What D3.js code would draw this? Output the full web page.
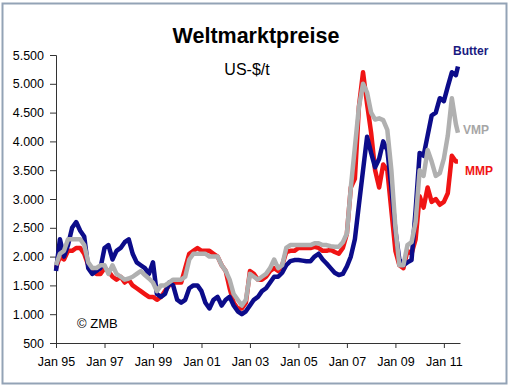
<!DOCTYPE html>
<html>
<head>
<meta charset="utf-8">
<script src="https://cdn.jsdelivr.net/npm/d3@7"></script>
<style>
  body { margin: 0; background: #fff; }
  svg text { font-family: "Liberation Sans", Arial, sans-serif; }
</style>
</head>
<body>
<svg id="chart" width="510" height="387"></svg>
<script>
// bi-monthly dates, Jan 95 .. Jul 11, plus Aug 11
var dates = [];
for (var yr = 1995; yr <= 2011; yr++) {
  for (var mo = 0; mo < 12; mo += 2) {
    if (yr === 2011 && mo > 6) break;
    dates.push(new Date(yr, mo, 1));
  }
}
dates.push(new Date(2011, 7, 1));

var butter = [
  1750, 2300, 2000, 2200, 2500, 2600,
  2450, 2350, 1800, 1700, 1750, 1800,
  2150, 2200, 1950, 2100, 2150, 2250,
  2300, 2050, 1900, 1850, 1800, 1700,
  1900, 1350, 1300, 1350, 1550, 1500,
  1250, 1200, 1250, 1450, 1500, 1500,
  1400, 1200, 1100, 1250, 1300, 1150,
  1250, 1300, 1150, 1050, 1000, 1050,
  1150, 1250, 1300, 1400, 1450, 1550,
  1650, 1650, 1720, 1850, 1920, 1940,
  1940, 1930, 1920, 1920, 2000, 2050,
  1950, 1880, 1800, 1720, 1680, 1700,
  1830, 2000, 2300, 2900, 3500, 4080,
  3800, 3550, 3700, 4000, 3850, 3200,
  2450, 1950, 1850, 1900, 1940, 2800,
  3800, 3750, 4100, 4450, 4500, 4750,
  4700, 4950, 5200, 5150, 5300
];

var mmp = [
  1800, 2000, 1950, 2100, 2100, 2150,
  2150, 2050, 1850, 1750, 1700, 1700,
  1800, 1750, 1650, 1600, 1650, 1550,
  1600, 1500, 1450, 1400, 1350, 1300,
  1300, 1250, 1300, 1400, 1500, 1550,
  1550, 1550, 1800, 2050, 2100, 2150,
  2100, 2100, 2100, 2050, 2000, 1850,
  1750, 1450, 1200, 1100, 1100, 1200,
  1750, 1700, 1600, 1600, 1650, 1750,
  1800, 1750, 1850, 2080, 2100, 2100,
  2150, 2150, 2150, 2150, 2170, 2150,
  2100, 2100, 2120, 2080, 2050, 2150,
  2400, 3200, 3350, 4600, 5200, 4650,
  4150, 3500, 3200, 3600, 3500, 2800,
  2100, 1850, 1800, 2100, 2050, 2300,
  3050, 2850, 3200, 2950, 3000, 2900,
  2950, 3100, 3750, 3650, 3650
];

var vmp = [
  1850, 2050, 2100, 2300, 2300, 2300,
  2300, 2200, 1900, 1800, 1800, 1850,
  1850, 1700, 1850, 1700, 1650, 1600,
  1620, 1650, 1700, 1750, 1680, 1620,
  1550, 1400, 1500, 1500, 1550, 1600,
  1600, 1600, 1650, 1950, 2050, 2050,
  2050, 2050, 2000, 2000, 2000, 1850,
  1750, 1600, 1350, 1250, 1150, 1250,
  1700, 1650, 1600, 1650, 1700, 1800,
  1950, 1800, 1850, 2150, 2200, 2200,
  2200, 2200, 2200, 2200, 2230, 2230,
  2200, 2200, 2180, 2170, 2170, 2250,
  2400, 3200, 3900, 4600, 5000, 4850,
  4500, 4380, 4400, 4370, 4200, 3500,
  2500, 1850, 1850, 2200, 2250, 2600,
  3500, 3400, 3850, 3650, 3400, 3450,
  3700, 4100, 4750, 4300, 4150
];

var yTicks = [500, 1000, 1500, 2000, 2500, 3000, 3500, 4000, 4500, 5000, 5500];
var xTickYears = [1995, 1997, 1999, 2001, 2003, 2005, 2007, 2009, 2011];

var svg = d3.select("#chart");

// outer frame
svg.append("rect")
  .attr("x", 2.5).attr("y", 3.5)
  .attr("width", 504).attr("height", 380)
  .attr("fill", "#fff")
  .attr("stroke", "#93a3b6")
  .attr("stroke-width", 2);

var x = d3.scaleTime()
  .domain([new Date(1995, 0, 1), new Date(2011, 8, 1)])
  .range([56, 460]);
var y = d3.scaleLinear().domain([500, 5500]).range([343, 55]);

var fmt = function (v) {
  return d3.format(",")(v).replace(/,/g, ".");
};

var yAxis = svg.append("g")
  .attr("transform", "translate(56,0)")
  .call(d3.axisLeft(y).tickValues(yTicks).tickSize(6).tickPadding(6).tickFormat(fmt));
yAxis.select(".domain").attr("stroke", "#333");
yAxis.selectAll(".tick line").attr("stroke", "#333");
yAxis.selectAll("text").attr("font-size", "12.5px").attr("fill", "#000");

var xAxis = svg.append("g")
  .attr("transform", "translate(0,343)")
  .call(d3.axisBottom(x)
    .tickValues(xTickYears.map(function (d) { return new Date(d, 0, 1); }))
    .tickSize(5).tickSizeOuter(0).tickPadding(9)
    .tickFormat(d3.timeFormat("Jan %y")));
xAxis.select(".domain").attr("stroke", "#333");
xAxis.selectAll(".tick line").attr("stroke", "#333");
xAxis.selectAll("text").attr("font-size", "12.5px").attr("fill", "#000");

var line = d3.line()
  .x(function (d, i) { return x(dates[i]); })
  .y(function (d) { return y(d); });

var series = [
  { name: "MMP", values: mmp, color: "#f01414" },
  { name: "Butter", values: butter, color: "#0c0c8a" },
  { name: "VMP", values: vmp, color: "#b0b0b0" }
];

svg.selectAll("path.series").data(series).enter()
  .append("path")
  .attr("class", "series")
  .attr("d", function (s) { return line(s.values); })
  .attr("fill", "none")
  .attr("stroke", function (s) { return s.color; })
  .attr("stroke-width", 4.5)
  .attr("stroke-linejoin", "round");

// labels
svg.append("text").attr("x", 256).attr("y", 43)
  .attr("text-anchor", "middle").attr("font-size", "21.5px").attr("font-weight", "bold")
  .text("Weltmarktpreise");
svg.append("text").attr("x", 247).attr("y", 75)
  .attr("text-anchor", "middle").attr("font-size", "16px")
  .text("US-$/t");
svg.append("text").attr("x", 453).attr("y", 55)
  .attr("font-size", "12px").attr("font-weight", "bold").attr("fill", "#1a1a80")
  .text("Butter");
svg.append("text").attr("x", 463).attr("y", 134)
  .attr("font-size", "12px").attr("font-weight", "bold").attr("fill", "#a6a6a6")
  .text("VMP");
svg.append("text").attr("x", 465).attr("y", 175)
  .attr("font-size", "12px").attr("font-weight", "bold").attr("fill", "#f01414")
  .text("MMP");
svg.append("text").attr("x", 77).attr("y", 328)
  .attr("font-size", "13px")
  .text("\u00a9 ZMB");
</script>
</body>
</html>
